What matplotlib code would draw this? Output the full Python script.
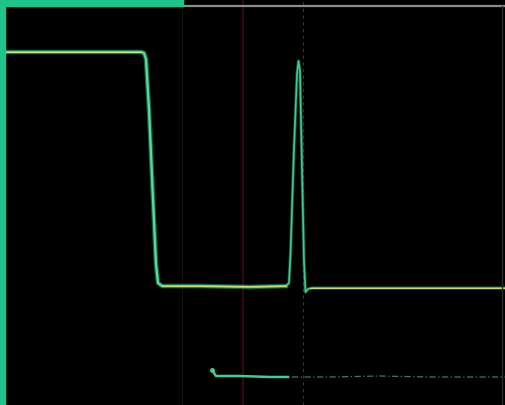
import numpy as np
import matplotlib.pyplot as plt

# screen readings (x = horizontal screen position, y = vertical, pixels from top)
square_x = [6, 60, 120, 141, 144, 146, 149, 153, 156, 158, 162, 200, 250, 286]
square_y = [53, 53, 53, 53, 54, 60, 110, 200, 265, 284, 287, 287, 288, 287]

pulse_x = [286, 289, 290.5, 294, 297, 298.5, 300, 302, 304, 305.5, 308, 312, 350, 420, 505]
pulse_y = [287, 284, 255, 150, 75, 62, 72, 170, 262, 293, 290, 289, 289, 289, 289]

low_x = [212, 216, 240, 270, 288]
low_y = [371, 377, 377, 378, 378]
low_dim_x = [292, 330, 380, 430, 470, 505]
low_dim_y = [378, 378, 377, 378, 378, 378]

fig = plt.figure(figsize=(5.05, 4.06), dpi=100, facecolor="black")
ax = fig.add_axes([0, 0, 1, 1])
ax.set_facecolor("#030304")
ax.set_xlim(0, 505)
ax.set_ylim(406, 0)
ax.axis("off")

# bezel edges
ax.axvspan(0, 5, color="#1ec48a", zorder=5)
ax.fill_between([0, 183], 0, 6.5, color="#1ec48a", zorder=5)
ax.plot([183, 505], [7, 7], color="#8a8e8c", lw=1.6, zorder=4)
ax.plot([502, 502], [7, 406], color="#2a2c2c", lw=1, zorder=4)

# graticule remnants
ax.axvline(243, color="#3a0c14", lw=1.2, zorder=1)
ax.axvline(303, color="#4a2a34", lw=0.8, ls=(0, (3, 3)), zorder=1)
ax.axvline(182, color="#101212", lw=0.8, zorder=1)

# traces: glow then core
ax.plot(square_x, square_y, color="#1b9a6a", lw=3.4, alpha=0.6, zorder=2)
ax.plot(square_x, square_y, color="#5ad89a", lw=1.7, zorder=3)
ax.plot(pulse_x, pulse_y, color="#1b9a6a", lw=2.4, alpha=0.5, zorder=2)
ax.plot(pulse_x, pulse_y, color="#44c890", lw=1.2, zorder=3)
ax.plot(square_x[:4], square_y[:4], color="#c8e890", lw=0.7, zorder=3)
ax.plot([162, 286], [287, 287], color="#c8dc70", lw=0.8, zorder=3)
ax.plot([310, 505], [289, 289], color="#c8dc70", lw=0.8, zorder=3)

ax.plot(low_x, low_y, color="#3ccf96", lw=1.8, zorder=3)
ax.plot(low_dim_x, low_dim_y, color="#3f7a64", lw=0.9, ls=(0, (5, 2, 1, 2)), zorder=3)
ax.plot([212], [371], "o", color="#3ccf96", ms=2.5, zorder=3)

fig.savefig("out.png", dpi=100, facecolor="black")
